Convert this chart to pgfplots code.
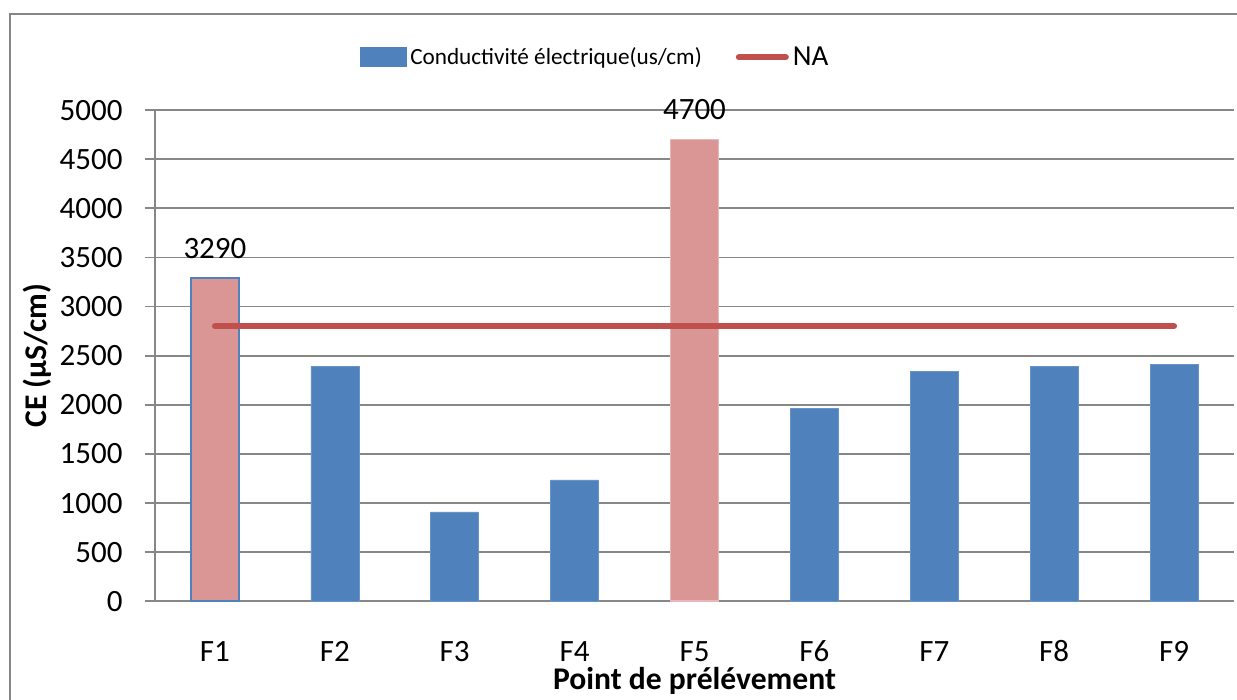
\documentclass[border=0pt]{standalone}
\usepackage{fontspec}
\setmainfont{Carlito}
\usepackage{pgfplots}
\pgfplotsset{compat=1.18}
\definecolor{barblue}{HTML}{4F81BD}
\definecolor{barpink}{HTML}{D99694}
\definecolor{pinkedge}{HTML}{E6B9B8}
\definecolor{nared}{HTML}{C0504D}
\definecolor{gridgray}{HTML}{878787}
\begin{document}
\begin{tikzpicture}
\useasboundingbox (-77.5pt,-49.35pt) rectangle (541pt,300.65pt);
\fill[white] (-77.5pt,-49.35pt) rectangle (541pt,300.65pt);
\draw[gridgray, line width=0.8pt] (-72.5pt,-49.35pt) -- (-72.5pt,293.65pt) -- (541pt,293.65pt);
\begin{axis}[
  at={(0pt,0pt)}, anchor=south west,
  scale only axis,
  width=539.5pt, height=245.6pt,
  xmin=-0.5, xmax=8.5,
  ymin=0, ymax=5000,
  xtick={0,1,2,3,4,5,6,7,8},
  xticklabels={F1,F2,F3,F4,F5,F6,F7,F8,F9},
  ytick={0,500,1000,1500,2000,2500,3000,3500,4000,4500,5000},
  axis x line*=bottom,
  axis y line*=left,
  axis line style={-, draw=gridgray, line width=0.9pt},
  x tick style={draw=none},
  y tick style={draw=gridgray, line width=0.9pt},
  tick align=outside,
  major tick length=5pt,
  ymajorgrids,
  grid style={gridgray, line width=0.9pt},
  /pgf/number format/assume math mode=true,
  /pgf/number format/1000 sep={},
  tick label style={font=\fontsize{15.5}{18}\selectfont},
  xticklabel style={anchor=base, inner sep=0pt, yshift=-25pt},
  yticklabel style={anchor=east, inner sep=0pt, xshift=-11pt},
  xlabel={Point de prélévement},
  ylabel={CE (µS/cm)},
  xlabel style={font=\bfseries\fontsize{15.8}{18}\selectfont, inner sep=0pt, at={(axis description cs:0.5,-0.1805)}, anchor=base},
  ylabel style={font=\bfseries\fontsize{15.8}{18}\selectfont, inner sep=0pt, at={(axis description cs:-0.1094,0.5)}, anchor=center},
  legend style={at={(220.5pt,272pt)}, anchor=center, draw=none, fill=none,
    font=\fontsize{11.6}{14}\selectfont, inner sep=0pt, row sep=0pt,
    legend cell align=left,
    /tikz/every even column/.append style={column sep=15pt}},
  legend columns=2,
  clip=false,
]
\addplot[ybar, bar width=24pt, bar shift=0pt, fill=barblue, draw=barblue!85!white, line width=0.3pt,
  legend image code/.code={\fill[barblue] (0pt,-4.75pt) rectangle (23pt,4.75pt);}]
  coordinates {(1,2390) (2,910) (3,1235) (5,1960) (6,2340) (7,2395) (8,2410)};
\addlegendentry{Conductivité électrique(us/cm)}
\addplot[ybar, bar width=24pt, bar shift=0pt, fill=barpink, draw=barblue, line width=0.8pt, forget plot,
  nodes near coords, every node near coord/.append style={font=\fontsize{15.5}{18}\selectfont, anchor=base, yshift=10pt, black}]
  coordinates {(0,3290)};
\addplot[ybar, bar width=24pt, bar shift=0pt, fill=barpink, draw=pinkedge, line width=0.8pt, forget plot,
  nodes near coords, every node near coord/.append style={font=\fontsize{15.5}{18}\selectfont, anchor=base, yshift=10pt, black}]
  coordinates {(4,4700)};
\addplot[nared, line width=3pt, line cap=round, mark=none,
  legend image code/.code={\draw[nared, line width=3pt, line cap=round] (0pt,0pt) -- (23.5pt,0pt);}]
  coordinates {(0,2800) (8,2800)};
\addlegendentry{\fontsize{14.5}{16}\selectfont NA}
\end{axis}
\end{tikzpicture}
\end{document}
